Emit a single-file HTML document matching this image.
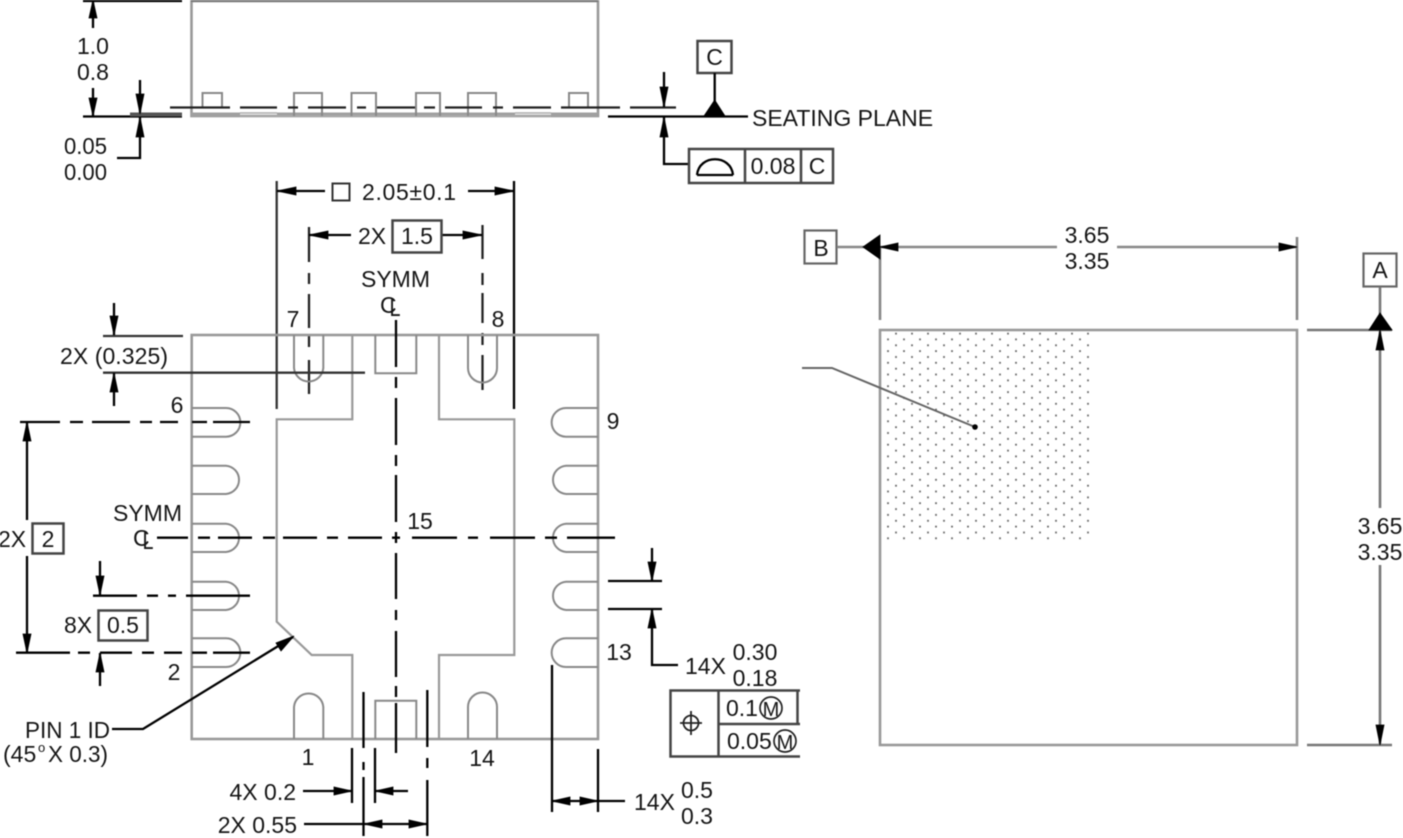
<!DOCTYPE html>
<html><head><meta charset="utf-8"><style>
html,body{margin:0;padding:0;background:#fff;width:1403px;height:838px;overflow:hidden}
svg{display:block;filter:blur(.55px)}
text{font-family:"Liberation Sans",sans-serif;font-size:23px;fill:#151515}
.m{text-anchor:middle}.e{text-anchor:end}
.g{fill:none;stroke:#999;stroke-width:2.6}
.h{fill:none;stroke:#888;stroke-width:2}
.k{fill:none;stroke:#000;stroke-width:2.3}
.d{fill:none;stroke:#222;stroke-width:2.3}
.b{fill:none;stroke:#444;stroke-width:2.5}
.a{fill:#000;stroke:#000;stroke-width:.8}
</style></head><body>
<svg width="1403" height="838" viewBox="0 0 1403 838" xmlns="http://www.w3.org/2000/svg">
<defs><pattern id="st" x="880" y="330" width="16" height="11.7" patternUnits="userSpaceOnUse">
<rect x="7.1" y="8.5" width="1.8" height="1.8" fill="#666"/><rect x="15.1" y="2.7" width="1.8" height="1.8" fill="#666"/><rect x="-0.9" y="2.7" width="1.8" height="1.8" fill="#666"/></pattern></defs>

<!-- side view -->
<rect x="191.5" y="1" width="406.5" height="115" class="g"/>
<path d="M191 1H598" stroke="#777" stroke-width="2"/>
<g fill="#a0a0a0"><rect x="191" y="112.5" width="49" height="4"/><rect x="277" y="112.5" width="238" height="4"/><rect x="551" y="112.5" width="47" height="4"/></g>
<path d="M240 113H277M515 113H551M240 116H551" stroke="#aaa" stroke-width="1.5"/>
<g fill="#fff" class="h"><path d="M202.500 107V93H222V107"/><path d="M294 116V93H322V116M351.500 116V93H376V116M416 116V93H440V116M468 116V93H496V116"/><path d="M569 107V93H588V107"/></g>
<path class="d" d="M170 107.500H230M240 107.500H277M288 107.500H298M308 107.500H346M357 107.500H366M377 107.500H415M424 107.500H435M445 107.500H482M493 107.500H503M513 107.500H551M561 107.500H620M630 107.500H676"/>
<path class="k" d="M83 1H182M83 116.500H182M93 28V2M93 88V116M140 80V116M140 116V158H117M608 116.500H748M664 72V107M664 116V164H689"/>
<path d="M130 114.500H182" stroke="#555" stroke-width="4"/>
<path class="a" d="M93 0L89 18H97ZM93 116L89 98H97ZM140 114L136 94H144ZM140 117L136 137H144ZM664 107L660 87H668ZM664 117L660 137H668Z"/>
<text x="93" y="54" class="m">1.0</text><text x="93" y="80" class="m">0.8</text>
<text x="107" y="154" class="e" textLength="43" lengthAdjust="spacingAndGlyphs">0.05</text><text x="107" y="180" class="e" textLength="43" lengthAdjust="spacingAndGlyphs">0.00</text>
<rect x="697.500" y="41" width="34" height="32" class="b"/><text x="714.500" y="65" class="m">C</text>
<path class="k" d="M714.700 73V102"/><path class="a" d="M714.700 100L704 116H725Z"/>
<text x="752" y="126">SEATING PLANE</text>
<rect x="689" y="149" width="144" height="34" class="b"/><path class="b" d="M745 149V183M801 149V183"/>
<path class="k" d="M697 175H733M697 175C699 154 731 154 733 175"/>
<text x="773" y="174" class="m">0.08</text><text x="817" y="174" class="m">C</text>

<!-- top dims -->
<path d="M276.700 181V409" stroke="#333" stroke-width="2.3"/><path class="k" d="M514 181V409"/>
<path class="k" d="M277 191H325M468 191H514"/><path class="a" d="M277 191L296 187V195ZM514 191L495 187V195Z"/>
<rect x="332.500" y="183.500" width="17" height="17" fill="none" stroke="#333" stroke-width="2"/>
<text x="362" y="200" textLength="94" lengthAdjust="spacing">2.05±0.1</text>
<path class="d" d="M309 227V262M309 273V284M309 294V328M309 335V347M309 360V394M482.500 225V259M482.500 273V285M482.500 293V323M482.500 333V345M482.500 355V390"/>
<path class="k" d="M309 235H351M442 235H482"/><path class="a" d="M309 235L328 231V239ZM482 235L463 231V239Z"/>
<text x="358" y="244">2X</text><rect x="392.500" y="220.500" width="49" height="32" class="b"/><text x="417" y="244" class="m">1.5</text>
<text x="395.500" y="287" class="m">SYMM</text>
<text x="380" y="313">C</text><text x="389.500" y="316" style="font-size:25px" textLength="11" lengthAdjust="spacingAndGlyphs">L</text>

<!-- package -->
<rect x="191.700" y="335" width="406.300" height="404" class="g"/>
<path d="M191.700 335H598" stroke="#999" stroke-width="2"/>
<path class="g" d="M352.300 335V419.300H276.700V621.700L311.700 655H352.300V739M439 335V419.300H514.300V655H439V739" style="stroke-width:2.2"/>
<g class="h">
<path d="M375.300 335V373.300H416.300V335M375.300 739V700.700H416.300V739"/>
<path d="M294 335V368A14.700 14.700 0 0 0 323.300 368V335M468 335V368A14.500 14.500 0 0 0 497 368V335"/>
<path d="M294 739V707A14.700 14.700 0 0 1 323.300 707V739M468 739V707A14.500 14.500 0 0 1 497 707V739"/>
<path d="M192 408H226A14.300 14.300 0 0 1 226 436.700H192M192 465.700H226A14.200 14.200 0 0 1 226 494H192M192 523.700H226A14.200 14.200 0 0 1 226 552H192M192 581.700H226A14.200 14.200 0 0 1 226 610H192M192 638.300H226A14.300 14.300 0 0 1 226 667H192"/>
<path d="M598 408H566A14.300 14.300 0 0 0 566 436.700H598M598 465.700H566A14.200 14.200 0 0 0 566 494H598M598 523.700H566A14.200 14.200 0 0 0 566 552H598M598 581.700H566A14.200 14.200 0 0 0 566 610H598M598 638.300H566A14.300 14.300 0 0 0 566 667H598"/>
</g>
<!-- centre lines -->
<path class="k" d="M396 320V367M396 377V388M396 398V445M396 455V466M396 475V522M396 532V543M396 553V599M396 610V620M396 631V677M396 686V697M396 703V753"/>
<path class="k" d="M157 537.700H188M198 537.700H210M218 537.700H252M263 537.700H275M283 537.700H317M327 537.700H338M348 537.700H382M392 537.700H400M412 537.700H457M468 537.700H478M490 537.700H535M545 537.700H557M567 537.700H615"/>
<path class="k" d="M20 422H60M70 422H83M92 422H130M140 422H152M160 422H178M192 422H207M213 422H250"/>
<path class="k" d="M16 652.700H70M78 652.700H90M100 652.700H132M142 652.700H154M164 652.700H182M192 652.700H207M213 652.700H250"/>
<path class="k" d="M93 595.700H137M147 595.700H158M168 595.700H176M186 595.700H250"/>
<path d="M103 336H183M103 372.700H365" stroke="#333" stroke-width="2.3" fill="none"/>
<!-- left dims -->
<path class="k" d="M114 303V335M114 373V406"/><path class="a" d="M114 335L110 316H118ZM114 373L110 392H118Z"/>
<text x="60" y="364" textLength="108" lengthAdjust="spacing">2X (0.325)</text>
<text x="113" y="521">SYMM</text><text x="133" y="546">C</text><text x="142.500" y="549" style="font-size:25px" textLength="11" lengthAdjust="spacingAndGlyphs">L</text>
<path class="k" d="M27 423V520M27 556V652"/><path class="a" d="M27 422L23 441H31ZM27 653L23 634H31Z"/>
<text x="-2" y="547">2X</text><rect x="32.500" y="523.500" width="31" height="30" class="b"/><text x="48" y="547" class="m">2</text>
<path class="k" d="M100 561V595M100 653V686"/><path class="a" d="M100 595L96 576H104ZM100 653L96 672H104Z"/>
<text x="64" y="633">8X</text><rect x="98.500" y="610.500" width="49" height="30" class="b"/><text x="123" y="633" class="m">0.5</text>
<!-- pin labels -->
<text x="293" y="327" class="m">7</text><text x="498" y="327" class="m">8</text><text x="177" y="413" class="m">6</text><text x="613" y="429" class="m">9</text>
<text x="420" y="529" class="m">15</text><text x="174" y="680" class="m">2</text><text x="619" y="660" class="m">13</text><text x="308" y="765" class="m">1</text><text x="482" y="766" class="m">14</text>
<!-- pin1 -->
<path class="k" d="M112 729H143L293 637"/><path class="a" d="M294 636L276 643L281 651Z"/>
<text x="25" y="738" textLength="85" lengthAdjust="spacingAndGlyphs">PIN 1 ID</text>
<text x="3" y="762">(45</text><text x="38" y="752" style="font-size:13px">o</text><text x="48" y="762" textLength="60" lengthAdjust="spacingAndGlyphs">X 0.3)</text>
<!-- bottom dims -->
<path class="k" d="M363.500 692V748M363.500 762V770M363.500 777V836M427.300 690V747M427.300 758V768M427.300 780V836M352 748V803M375 748V803M552 665V812M598 749V812"/>
<path class="k" d="M303 791H352M375 791H408M304 824H427M598 801H625M552 801H598"/>
<path class="a" d="M352 791L334 787V795ZM375 791L393 787V795ZM364 824L382 820V828ZM427 824L409 820V828ZM552 801L570 797V805ZM598 801L580 797V805Z"/>
<text x="296" y="800" class="e">4X 0.2</text><text x="297" y="833" class="e">2X 0.55</text>
<text x="634" y="810">14X</text><text x="697" y="798" class="m">0.5</text><text x="697" y="824" class="m">0.3</text>
<!-- width dim -->
<path class="k" d="M608 581H662M608 609H662M652 548V581M652 610V665H678"/><path class="a" d="M652 581L648 562H656ZM652 609L648 628H656Z"/>
<text x="685" y="674">14X</text><text x="755" y="660" class="m">0.30</text><text x="755" y="686" class="m">0.18</text>
<!-- FCF -->
<path class="b" d="M800 690.500H670.500V756.500H800M718.500 690.500V756.500M718.500 724H800M797.500 690.500V724"/>
<circle cx="691" cy="723" r="7.500" fill="none" stroke="#222" stroke-width="1.800"/><path d="M691 711V735M680 723H702" stroke="#222" stroke-width="1.800"/>
<text x="726" y="716">0.1</text><circle cx="771" cy="708" r="11" fill="none" stroke="#222" stroke-width="1.700"/><text x="771" y="716" class="m" style="font-size:20px">M</text>
<text x="727" y="749">0.05</text><circle cx="785" cy="741" r="11" fill="none" stroke="#222" stroke-width="1.700"/><text x="785" y="749" class="m" style="font-size:20px">M</text>

<!-- right view -->
<rect x="880" y="330" width="209" height="210" fill="url(#st)"/>
<rect x="880" y="330" width="417" height="415" class="g"/>
<path d="M802 368H832L975 427" class="h" style="stroke:#666"/><circle cx="975" cy="427" r="2.800" fill="#000"/>
<rect x="804.500" y="230.500" width="32" height="33" class="h" style="stroke:#666;stroke-width:2.2"/><text x="821" y="256" class="m">B</text>
<path class="g" d="M837 247H865M880 247V320M1297 237V320M880 247H1057M1117 247H1297" style="stroke:#888"/>
<path class="a" d="M863 247L880 235V259ZM880 247L898 243V251ZM1297 247L1279 243V251Z"/>
<text x="1087" y="243" class="m">3.65</text><text x="1087" y="269" class="m">3.35</text>
<rect x="1363.500" y="253.500" width="33" height="33" class="h" style="stroke:#666;stroke-width:2.2"/><text x="1380" y="278" class="m">A</text>
<path class="g" d="M1380 287V316M1307 330H1392M1307 745H1392M1380 330V508M1380 565V745" style="stroke:#777"/>
<path class="a" d="M1380 313L1369 330H1392ZM1380 330L1376 350H1384ZM1380 745L1376 725H1384Z"/>
<text x="1380" y="534" class="m">3.65</text><text x="1380" y="560" class="m">3.35</text>
</svg></body></html>
